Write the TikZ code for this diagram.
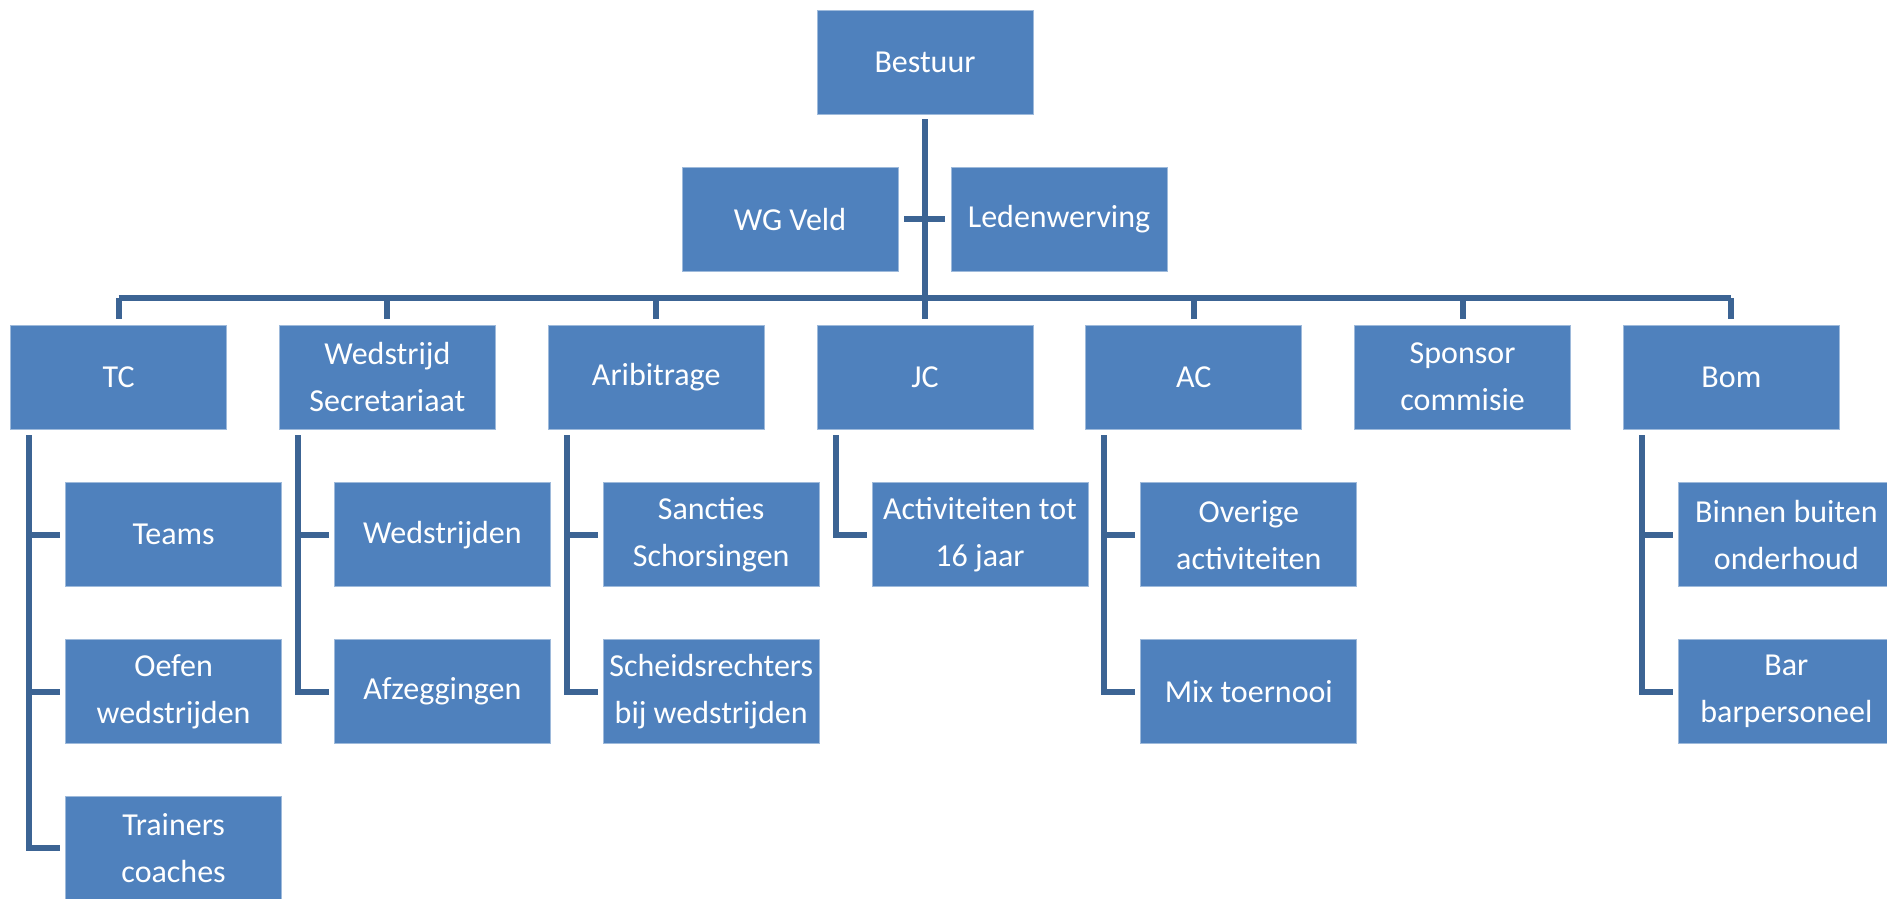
\documentclass[tikz,border=0pt]{standalone}
\usepackage{fontspec}
\setmainfont{Carlito}
\usetikzlibrary{positioning}

\definecolor{boxblue}{RGB}{79,129,189}
\definecolor{lineblue}{RGB}{60,100,148}

\tikzset{
  orgbox/.style={rectangle, fill=boxblue, draw=boxblue!55!white, line width=0.8pt,
    minimum width=216pt, minimum height=104pt, inner sep=2pt, text=white,
    align=center, font=\fontsize{32}{47}\selectfont},
  conn/.style={draw=lineblue, line width=6pt}
}

\begin{document}
\begin{tikzpicture}[x=1pt,y=-1pt]
  \useasboundingbox (0,0) rectangle (1887,899);

  % top
  \node [orgbox] (bestuur) at (925,62) {Bestuur};
  \node [orgbox] (wgveld) at (790,219) {WG Veld};
  \node [orgbox] (leden) at (1059,219) {Ledenwerving};

  % commissies
  \node [orgbox] (jc) at (925,377) {JC};
  \node [orgbox, left=52pt of jc] (arbi) {Aribitrage};
  \node [orgbox, left=52pt of arbi] (wsec) {Wedstrijd\\Secretariaat};
  \node [orgbox, left=52pt of wsec] (tc) {TC};
  \node [orgbox, right=52pt of jc] (ac) {AC};
  \node [orgbox, right=52pt of ac] (sponsor) {Sponsor\\commisie};
  \node [orgbox, right=52pt of sponsor] (bom) {Bom};

  % TC
  \node [orgbox, below=53pt of tc, xshift=55pt] (teams) {Teams};
  \node [orgbox, below=52pt of teams] (oefen) {Oefen\\wedstrijden};
  \node [orgbox, below=52pt of oefen] (trainers) {Trainers\\coaches};
  % wedstrijdsecretariaat
  \node [orgbox, below=53pt of wsec, xshift=55pt] (wedstr) {Wedstrijden};
  \node [orgbox, below=52pt of wedstr] (afzeg) {Afzeggingen};
  % arbitrage
  \node [orgbox, below=53pt of arbi, xshift=55pt] (sanct) {Sancties\\Schorsingen};
  \node [orgbox, below=52pt of sanct] (scheids) {Scheidsrechters\\bij wedstrijden};
  % JC
  \node [orgbox, below=53pt of jc, xshift=55pt] (activ) {Activiteiten tot\\16 jaar};
  % AC
  \node [orgbox, below=53pt of ac, xshift=55pt] (overig) {Overige\\activiteiten};
  \node [orgbox, below=52pt of overig] (mix) {Mix toernooi};
  % Bom
  \node [orgbox, below=53pt of bom, xshift=55pt] (onderh) {Binnen buiten\\onderhoud};
  \node [orgbox, below=52pt of onderh] (bar) {Bar\\barpersoneel};

  % lines from the top
  \coordinate (bus) at (925,298);
  \draw [conn] ([yshift=-5pt]bestuur.south) -- ([yshift=6pt]jc.north);
  \draw [conn] ([xshift=6pt]wgveld.east) -- ([xshift=-6pt]leden.west);
  \draw [conn] (tc.north |- bus) -- (bom.north |- bus);
  \draw [conn] (tc.north |- bus) -- ([yshift=6pt]tc.north);
  \draw [conn] (wsec.north |- bus) -- ([yshift=6pt]wsec.north);
  \draw [conn] (arbi.north |- bus) -- ([yshift=6pt]arbi.north);
  \draw [conn] (ac.north |- bus) -- ([yshift=6pt]ac.north);
  \draw [conn] (sponsor.north |- bus) -- ([yshift=6pt]sponsor.north);
  \draw [conn] (bom.north |- bus) -- ([yshift=6pt]bom.north);

  % lines to the werkgroepen
  \coordinate (tcx) at ([xshift=19pt,yshift=-6pt]tc.south west);
  \draw [conn] (tcx) |- ([xshift=-5pt]trainers.west);
  \draw [conn] (tcx |- teams.west) -- ([xshift=-5pt]teams.west);
  \draw [conn] (tcx |- oefen.west) -- ([xshift=-5pt]oefen.west);

  \coordinate (wsecx) at ([xshift=19pt,yshift=-6pt]wsec.south west);
  \draw [conn] (wsecx) |- ([xshift=-5pt]afzeg.west);
  \draw [conn] (wsecx |- wedstr.west) -- ([xshift=-5pt]wedstr.west);

  \coordinate (arbix) at ([xshift=19pt,yshift=-6pt]arbi.south west);
  \draw [conn] (arbix) |- ([xshift=-5pt]scheids.west);
  \draw [conn] (arbix |- sanct.west) -- ([xshift=-5pt]sanct.west);

  \coordinate (jcx) at ([xshift=19pt,yshift=-6pt]jc.south west);
  \draw [conn] (jcx) |- ([xshift=-5pt]activ.west);

  \coordinate (acx) at ([xshift=19pt,yshift=-6pt]ac.south west);
  \draw [conn] (acx) |- ([xshift=-5pt]mix.west);
  \draw [conn] (acx |- overig.west) -- ([xshift=-5pt]overig.west);

  \coordinate (bomx) at ([xshift=19pt,yshift=-6pt]bom.south west);
  \draw [conn] (bomx) |- ([xshift=-5pt]bar.west);
  \draw [conn] (bomx |- onderh.west) -- ([xshift=-5pt]onderh.west);
\end{tikzpicture}
\end{document}
